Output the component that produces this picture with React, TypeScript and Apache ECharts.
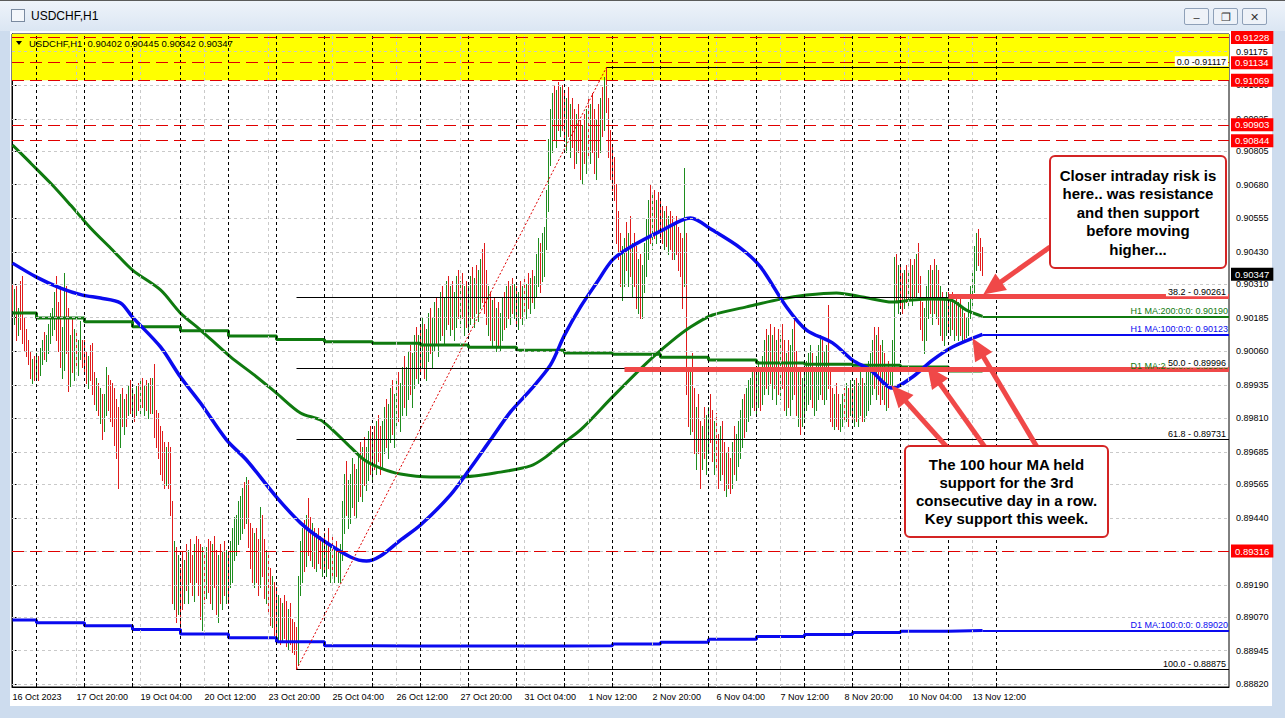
import React, { useEffect, useRef } from "react";
import * as echarts from "echarts";

const FONT = "'Liberation Sans', Arial, sans-serif";

// ---------- time axis ----------
const X_LABELS = ["16 Oct 2023", "17 Oct 20:00", "19 Oct 04:00", "20 Oct 12:00", "23 Oct 20:00", "25 Oct 04:00", "26 Oct 12:00", "27 Oct 20:00", "31 Oct 04:00", "1 Nov 12:00", "2 Nov 20:00", "6 Nov 04:00", "7 Nov 12:00", "8 Nov 20:00", "10 Nov 04:00", "13 Nov 12:00"];
const X_LABEL_EVERY = 32; // H1 bars between time labels
// first bar index of every trading day (16 Oct 12:00 is bar 0)
const DAY_START = [0, 12, 36, 60, 84, 108, 132, 156, 180, 204, 228, 252, 276, 300, 324, 348, 372, 396, 420, 444, 468];
const SEPARATORS = [12, 36, 60, 84, 108, 132, 156, 180, 204, 228, 252, 276, 300, 324, 348, 372, 396, 420, 444, 468, 492];
const X_MIN = -0.25;
const X_MAX = 608.25;

// ---------- price axis ----------
const Y_MIN = 0.8881;
const Y_MAX = 0.91241;
const Y_TICKS = [0.91175, 0.9105, 0.90925, 0.90805, 0.9068, 0.90555, 0.9043, 0.9031, 0.90185, 0.9006, 0.89935, 0.8981, 0.89685, 0.89565, 0.8944, 0.89315, 0.8919, 0.8907, 0.88945, 0.8882];

// ---------- H1 bars (pips, price x 10000), one row per trading day ----------
const HIGH_D = [
  [9031, 9029, 9030, 9022, 9032, 9034, 9018, 9014, 9010, 9006, 9003, 9004],
  [9005, 9004, 9007, 9010, 9013, 9012, 9016, 9020, 9022, 9028, 9034, 9024, 9030, 9015, 9035, 9030, 9022, 9012, 9018, 9014, 9013, 9010, 9017, 9010],
  [9010, 9006, 9004, 9008, 9009, 8998, 8996, 8994, 8992, 8990, 8990, 9000, 8997, 8995, 8994, 8992, 8988, 8985, 8990, 8992, 8988, 8990, 8993, 8995],
  [8992, 8990, 8993, 8994, 8995, 8996, 8993, 8995, 8994, 8996, 8996, 9001, 8984, 8983, 8978, 8976, 8972, 8970, 8972, 8970, 8950, 8935, 8933, 8930],
  [8925, 8931, 8928, 8934, 8932, 8936, 8930, 8934, 8937, 8936, 8934, 8933, 8930, 8933, 8936, 8935, 8934, 8937, 8932, 8930, 8934, 8931, 8935, 8932],
  [8930, 8935, 8940, 8944, 8945, 8950, 8952, 8955, 8957, 8959, 8958, 8942, 8940, 8938, 8940, 8936, 8948, 8945, 8936, 8932, 8930, 8925, 8922, 8920],
  [8918, 8915, 8914, 8912, 8915, 8913, 8910, 8912, 8906, 8905, 8903, 8922, 8935, 8940, 8943, 8945, 8951, 8944, 8942, 8940, 8938, 8940, 8937, 8935],
  [8938, 8935, 8940, 8934, 8937, 8932, 8935, 8931, 8934, 8950, 8960, 8965, 8958, 8960, 8966, 8964, 8962, 8968, 8972, 8970, 8974, 8970, 8976, 8978],
  [8975, 8978, 8980, 8982, 8978, 8980, 8985, 8988, 8986, 8992, 8995, 8990, 8996, 8998, 8994, 9000, 9004, 9000, 9006, 9008, 9005, 9012, 9015, 9012],
  [9015, 9018, 9016, 9014, 9020, 9022, 9018, 9024, 9026, 9022, 9028, 9030, 9026, 9032, 9034, 9030, 9032, 9028, 9034, 9036, 9032, 9035, 9030, 9032],
  [9030, 9034, 9037, 9033, 9038, 9036, 9040, 9044, 9046, 9036, 9030, 9028, 9025, 9026, 9022, 9024, 9020, 9026, 9028, 9030, 9032, 9030, 9033, 9031],
  [9030, 9028, 9032, 9030, 9034, 9031, 9035, 9033, 9036, 9034, 9042, 9048, 9046, 9050, 9052, 9066, 9085, 9096, 9102, 9105, 9103, 9106, 9104, 9105],
  [9102, 9100, 9104, 9098, 9100, 9096, 9094, 9098, 9092, 9090, 9094, 9096, 9100, 9098, 9102, 9096, 9092, 9098, 9100, 9104, 9108, 9111.7, 9100, 9088],
  [9082, 9078, 9068, 9058, 9050, 9045, 9048, 9054, 9050, 9056, 9046, 9050, 9045, 9040, 9042, 9038, 9046, 9055, 9062, 9068, 9064, 9066, 9062, 9065],
  [9062, 9060, 9058, 9060, 9056, 9058, 9056, 9054, 9056, 9052, 9050, 9048, 9074, 9050, 9000, 8998, 9005, 8992, 8985, 8990, 8980, 8978, 8985, 8982],
  [8985, 8990, 8984, 8980, 8983, 8975, 8978, 8980, 8972, 8968, 8970, 8966, 8972, 8978, 8975, 8980, 8984, 8988, 8990, 8992, 8995, 8996, 9000, 8998],
  [8998, 9002, 9000, 9004, 9010, 9014, 9012, 9016, 9012, 9015, 9010, 9014, 9012, 9016, 9010, 9005, 9010, 9008, 9014, 9018, 9006, 9000, 8998, 8996],
  [8998, 9002, 9005, 9008, 9005, 9000, 9004, 9008, 9012, 9010, 9006, 9008, 9023, 9000, 8992, 8990, 8994, 8990, 8986, 8990, 8992, 8994, 8992, 8995],
  [8992, 8995, 8996, 8994, 8998, 8996, 8994, 8998, 9002, 9005, 9010, 9015, 9012, 9015, 9008, 9010, 9005, 9000, 9002, 8998, 9010, 9041, 9042, 9038],
  [9038, 9035, 9036, 9038, 9036, 9040, 9038, 9040, 9042, 9046, 9034, 9024, 9022, 9030, 9036, 9038, 9036, 9040, 9038, 9036, 9030, 9028, 9026, 9028],
  [9028, 9026, 9028, 9025, 9026, 9024, 9026, 9022, 9020, 9018, 9024, 9030, 9035, 9045, 9050, 9051.5, 9048, 9044.5],
];
const LOW_D = [
  [9021, 9016, 9010, 9012, 9014, 9009, 9006, 9004, 9001, 8996, 8994, 8995],
  [8996, 8995, 8997, 9001, 9003, 9002, 9005, 9009, 9012, 9014, 9010, 9006, 9000, 8996, 8999, 9005, 8991, 8993, 8998, 8995, 9000, 8997, 9003, 9000],
  [8998, 8994, 8992, 8995, 8990, 8986, 8984, 8982, 8979, 8973, 8976, 8982, 8984, 8980, 8978, 8971, 8966, 8955, 8970, 8978, 8975, 8978, 8982, 8983],
  [8982, 8980, 8982, 8984, 8983, 8985, 8982, 8984, 8981, 8983, 8983, 8974, 8970, 8966, 8960, 8958, 8955, 8956, 8955, 8945, 8912, 8910, 8905, 8908],
  [8903, 8910, 8912, 8917, 8912, 8920, 8915, 8913, 8920, 8915, 8906, 8902, 8912, 8914, 8916, 8912, 8910, 8918, 8908, 8905, 8912, 8910, 8915, 8912],
  [8912, 8918, 8920, 8928, 8930, 8934, 8936, 8938, 8940, 8942, 8933, 8925, 8920, 8918, 8920, 8915, 8918, 8922, 8914, 8912, 8908, 8904, 8903, 8900],
  [8900, 8898, 8897, 8898, 8899, 8896, 8895, 8897, 8894, 8893, 8887.5, 8889, 8915, 8920, 8924, 8926, 8930, 8928, 8926, 8925, 8924, 8927, 8925, 8922],
  [8924, 8922, 8925, 8920, 8922, 8920, 8922, 8920, 8920, 8928, 8938, 8945, 8940, 8942, 8948, 8945, 8944, 8950, 8952, 8950, 8956, 8954, 8958, 8960],
  [8958, 8962, 8960, 8965, 8960, 8962, 8968, 8970, 8966, 8972, 8975, 8970, 8978, 8980, 8976, 8982, 8985, 8982, 8988, 8990, 8985, 8992, 8996, 8994],
  [8998, 9000, 8996, 8995, 9002, 9005, 9000, 9006, 9008, 9004, 9010, 9012, 9008, 9014, 9016, 9012, 9014, 9010, 9015, 9018, 9015, 9018, 9012, 9015],
  [9014, 9016, 9018, 9015, 9020, 9017, 9022, 9024, 9020, 9016, 9012, 9010, 9008, 9010, 9006, 9008, 9006, 9010, 9014, 9015, 9018, 9016, 9020, 9018],
  [9016, 9014, 9018, 9016, 9020, 9018, 9022, 9020, 9024, 9022, 9026, 9030, 9028, 9032, 9034, 9044, 9058, 9075, 9080, 9085, 9082, 9088, 9086, 9088],
  [9084, 9080, 9086, 9078, 9082, 9074, 9076, 9080, 9070, 9068, 9076, 9072, 9078, 9076, 9080, 9072, 9070, 9078, 9080, 9086, 9088, 9095, 9078, 9070],
  [9066, 9062, 9046, 9040, 9030, 9025, 9030, 9036, 9030, 9034, 9026, 9030, 9022, 9020, 9018, 9018, 9028, 9034, 9040, 9046, 9044, 9048, 9046, 9050],
  [9048, 9046, 9044, 9045, 9042, 9044, 9040, 9040, 9042, 9036, 9034, 9022, 9030, 8990, 8978, 8975, 8976, 8968, 8962, 8968, 8955, 8962, 8966, 8960],
  [8968, 8972, 8965, 8960, 8962, 8955, 8958, 8960, 8954, 8952, 8955, 8953, 8955, 8960, 8958, 8963, 8966, 8970, 8974, 8976, 8980, 8982, 8985, 8984],
  [8982, 8985, 8984, 8986, 8990, 8992, 8990, 8994, 8988, 8992, 8986, 8990, 8988, 8992, 8984, 8982, 8985, 8982, 8988, 8990, 8982, 8978, 8975, 8978],
  [8980, 8984, 8986, 8988, 8985, 8982, 8984, 8988, 8990, 8988, 8986, 8988, 8992, 8980, 8978, 8977, 8978, 8977, 8976, 8978, 8980, 8980, 8978, 8982],
  [8980, 8978, 8980, 8978, 8982, 8980, 8980, 8982, 8984, 8986, 8990, 8992, 8988, 8990, 8986, 8988, 8986, 8984, 8985, 8992, 8992, 9000, 9025, 9020],
  [9022, 9020, 9022, 9024, 9022, 9025, 9023, 9026, 9026, 9028, 9014, 9010, 9005, 9010, 9018, 9020, 9016, 9020, 9018, 9016, 9012, 9010, 9008, 9012],
  [9014, 9012, 9014, 9010, 9012, 9010, 9012, 9010, 9010, 9011, 9012, 9018, 9022, 9028, 9036, 9038, 9036, 9034.2],
];
const CLOSE_D = [
  [9024, 9027, 9013, 9018, 9016, 9012, 9010, 9008, 9003, 8999, 9000, 8998],
  [9001, 8998, 9005, 9008, 9006, 9010, 9014, 9017, 9019, 9025, 9015, 9012, 9004, 9008, 9020, 9010, 8995, 9005, 9003, 9010, 9004, 9007, 9009, 9006],
  [9001, 8998, 9000, 8997, 8994, 8990, 8993, 8986, 8988, 8978, 8987, 8995, 8988, 8985, 8982, 8975, 8972, 8965, 8986, 8983, 8984, 8982, 8990, 8987],
  [8987, 8984, 8990, 8986, 8992, 8989, 8990, 8987, 8991, 8986, 8992, 8978, 8975, 8970, 8964, 8962, 8960, 8966, 8958, 8950, 8920, 8930, 8912, 8925],
  [8920, 8914, 8925, 8921, 8929, 8926, 8918, 8930, 8927, 8919, 8915, 8925, 8922, 8928, 8920, 8917, 8929, 8924, 8914, 8922, 8918, 8926, 8922, 8928],
  [8926, 8932, 8938, 8940, 8942, 8947, 8949, 8953, 8950, 8956, 8936, 8930, 8925, 8934, 8924, 8920, 8940, 8926, 8918, 8925, 8912, 8910, 8915, 8906],
  [8904, 8910, 8902, 8908, 8903, 8900, 8906, 8899, 8897, 8895, 8890, 8918, 8930, 8934, 8928, 8940, 8937, 8933, 8938, 8930, 8934, 8932, 8929, 8930],
  [8928, 8932, 8927, 8930, 8925, 8929, 8926, 8928, 8932, 8946, 8955, 8950, 8952, 8956, 8960, 8950, 8958, 8963, 8958, 8966, 8962, 8967, 8970, 8965],
  [8970, 8966, 8975, 8970, 8965, 8976, 8980, 8975, 8982, 8986, 8980, 8985, 8990, 8984, 8988, 8995, 8990, 8996, 9000, 8995, 9002, 9008, 9004, 9010],
  [9008, 9012, 9004, 9010, 9015, 9010, 9014, 9020, 9015, 9018, 9024, 9018, 9022, 9026, 9020, 9025, 9018, 9022, 9028, 9024, 9027, 9022, 9025, 9020],
  [9024, 9028, 9022, 9030, 9026, 9032, 9035, 9030, 9026, 9020, 9024, 9016, 9020, 9014, 9018, 9012, 9016, 9022, 9020, 9026, 9024, 9027, 9025, 9028],
  [9022, 9025, 9020, 9027, 9024, 9028, 9026, 9030, 9028, 9032, 9038, 9040, 9034, 9046, 9048, 9062, 9080, 9090, 9096, 9090, 9098, 9092, 9100, 9094],
  [9090, 9095, 9088, 9092, 9084, 9080, 9090, 9085, 9078, 9085, 9080, 9090, 9084, 9092, 9086, 9078, 9088, 9085, 9096, 9092, 9102, 9098, 9082, 9075],
  [9070, 9066, 9050, 9045, 9034, 9038, 9044, 9040, 9046, 9038, 9042, 9034, 9028, 9036, 9024, 9032, 9040, 9050, 9058, 9052, 9060, 9054, 9058, 9056],
  [9055, 9050, 9054, 9048, 9052, 9050, 9046, 9050, 9046, 9042, 9038, 9030, 9040, 8995, 8985, 8990, 8982, 8975, 8980, 8972, 8960, 8972, 8970, 8975],
  [8980, 8976, 8970, 8975, 8966, 8962, 8970, 8965, 8958, 8962, 8960, 8958, 8968, 8965, 8972, 8976, 8980, 8984, 8982, 8988, 8990, 8994, 8995, 8992],
  [8994, 8996, 8990, 9000, 9005, 8998, 9006, 9002, 9008, 8996, 9004, 8998, 9006, 9000, 8992, 8998, 8990, 9002, 9008, 8996, 8988, 8992, 8984, 8990],
  [8992, 8995, 8998, 9000, 8990, 8994, 8998, 9002, 9006, 8996, 9000, 9004, 8996, 8985, 8982, 8986, 8982, 8980, 8984, 8986, 8984, 8990, 8986, 8990],
  [8986, 8990, 8984, 8988, 8992, 8986, 8990, 8994, 8996, 9000, 9004, 8998, 9006, 8998, 8994, 9002, 8992, 8995, 8990, 8995, 9006, 9036, 9030, 9034],
  [9030, 9028, 9032, 9030, 9034, 9032, 9035, 9033, 9036, 9030, 9018, 9014, 9016, 9026, 9030, 9024, 9030, 9026, 9032, 9022, 9026, 9018, 9020, 9024],
  [9020, 9022, 9018, 9020, 9016, 9020, 9015, 9016, 9012, 9014, 9022, 9028, 9032, 9042, 9048, 9044, 9040.2, 9034.7],
];
const FIRST_OPEN = 9028;
const HEADER_OHLC = [0.90402, 0.90445, 0.90342, 0.90347];

// ---------- moving averages ([bar index, pips]) ----------
const H1_MA200 = [[0, 9082.8], [9, 9076.1], [19, 9068.6], [29, 9060.4], [39, 9051.9], [50, 9043.7], [60, 9036.2], [74, 9028.8], [84, 9020.2], [94, 9013.9], [109, 9003.9], [121, 8997.1], [132, 8990.4], [144, 8983.0], [154, 8980.4], [160, 8976.7], [169, 8970.3], [176, 8965.5], [184, 8962.5], [194, 8960.3], [209, 8959.2], [224, 8959.2], [244, 8961.0], [259, 8963.3], [266, 8966.3], [274, 8971.1], [284, 8976.7], [300, 8989.0], [317, 9001.6], [329, 9009.4], [339, 9015.0], [350, 9019.5], [367, 9022.5], [384, 9025.4], [397, 9026.9], [412, 9027.7], [425, 9026.2], [440, 9024.3], [450, 9025.1], [460, 9025.4], [469, 9025.1], [477, 9021.3], [485, 9019.0]];
const H1_MA100 = [[0, 9038.8], [12, 9033.6], [24, 9029.5], [35, 9026.9], [44, 9025.8], [54, 9024.0], [60, 9018.7], [74, 9007.6], [84, 8996.4], [94, 8986.7], [107, 8973.0], [117, 8965.5], [132, 8951.7], [144, 8942.1], [155, 8935.7], [169, 8929.4], [177, 8927.9], [184, 8929.8], [194, 8935.7], [204, 8941.3], [219, 8952.5], [229, 8962.5], [239, 8973.0], [249, 8983.4], [259, 8991.6], [269, 9000.9], [276, 9012.0], [284, 9022.5], [292, 9031.4], [300, 9040.0], [309, 9044.8], [325, 9051.1], [339, 9055.6], [350, 9051.1], [364, 9044.4], [374, 9037.4], [387, 9022.5], [397, 9013.9], [410, 9009.1], [420, 9002.7], [429, 8999.0], [440, 8992.3], [450, 8996.4], [460, 9002.7], [470, 9007.6], [485, 9012.3]];
const D1_MA100 = [8905.9, 8904.9, 8903.8, 8902.4, 8900.7, 8899.3, 8897.8, 8896.4, 8896.3, 8896.3, 8896.3, 8896.3, 8896.4, 8897.0, 8897.7, 8898.8, 8899.8, 8900.5, 8901.3, 8901.8, 8902.0];
const D1_MA200 = [9020.2, 9018.4, 9017.0, 9015.1, 9013.6, 9011.7, 9010.4, 9009.5, 9009.0, 9008.3, 9007.5, 9006.4, 9005.3, 9004.9, 9003.8, 9002.7, 9001.6, 9001.2, 9000.8, 9000.1, 8998.6];

// ---------- drawn objects ----------
const RED_LEVELS = [0.91228, 0.91134, 0.91069, 0.90903, 0.90844, 0.89316];
const YELLOW_ZONE = [0.91069, Y_MAX];
const FIB_LOW = [142, 0.88875];
const FIB_HIGH = [297, 0.91117];
const FIB_LEVELS = [0, 38.2, 50, 61.8, 100];
const RISK_LINE = [468, 0.90264];
const SUPPORT_LINE = [306, 0.89993];
const ARROWS = [
  [[518.75, 0.90448], [489.85, 0.90295]],
  [[467.25, 0.89703], [443.1, 0.89903]],
  [[486.25, 0.89703], [460.65, 0.89971]],
  [[512.25, 0.89703], [482.8, 0.90073]],
];
const NOTE_1 = "Closer intraday risk is\nhere.. was resistance\nand then support\nbefore moving\nhigher...";
const NOTE_2 = "The 100 hour MA held\nsupport for the 3rd\nconsecutive day in a row.\nKey support this week.";

const P = (v: number) => v / 10000;

const UP = "#1e8c1e";
const DOWN = "#e01b1b";
const GREEN_MA = "#0f7a0f";
const BLUE_MA = "#0a0aef";
const SALMON = "#f04848";
const DASH_RED = "#e00000";

export default function App() {
  const ref = useRef<HTMLDivElement>(null);

  useEffect(() => {
    document.body.style.margin = "0";
    const chart = echarts.init(ref.current!, null, { renderer: "svg" });

    const HIGH = HIGH_D.flat();
    const LOW = LOW_D.flat();
    const CLOSE = CLOSE_D.flat();
    const bars = CLOSE.map((c, i) => [i, P(i === 0 ? FIRST_OPEN : CLOSE[i - 1]), P(HIGH[i]), P(LOW[i]), P(c)]);
    const lastIdx = CLOSE.length - 1;

    const labelIdx = X_LABELS.map((_, k) => k * X_LABEL_EVERY);
    const labelMap: Record<number, string> = {};
    labelIdx.forEach((v, k) => (labelMap[v] = X_LABELS[k]));

    const fibPrice = (lvl: number) => FIB_HIGH[1] - ((FIB_HIGH[1] - FIB_LOW[1]) * lvl) / 100;
    const d1Line = (vals: number[]) => [...DAY_START.map((d, k) => [d, P(vals[k])]), [lastIdx, P(vals[vals.length - 1])]];

    const helper = (z: number, extra: any) => ({ type: "line", data: [], z, silent: true, clip: false, animation: false, ...extra });
    const mlBase = { silent: true, symbol: ["none", "none"], precision: 5, animation: false };
    const smallLabel = { fontFamily: FONT, fontSize: 9 };

    const maExt = (val: number, color: string, text: string) => [
      { coord: [lastIdx, val], label: { show: true, position: "insideEndTop", distance: 1, formatter: text, color, ...smallLabel } },
      { coord: [X_MAX, val] },
    ];
    const lastOf = (arr: number[][]) => P(arr[arr.length - 1][1]);

    const option: any = {
      animation: false,
      backgroundColor: "transparent",
      grid: { left: 12, right: 56, top: 34, bottom: 31, show: true, borderColor: "#000", borderWidth: 1, backgroundColor: "transparent" },
      xAxis: {
        type: "value", min: X_MIN, max: X_MAX,
        axisLine: { show: true, lineStyle: { color: "#000", width: 1 } },
        axisTick: { show: true, inside: true, length: 4, customValues: [0, ...SEPARATORS], lineStyle: { color: "#000" } },
        axisLabel: { show: true, customValues: labelIdx, formatter: (v: number) => labelMap[v] ?? "", align: "left", margin: 5, color: "#000", ...smallLabel },
        splitLine: { show: false },
      },
      yAxis: {
        type: "value", position: "right", min: Y_MIN, max: Y_MAX, scale: true,
        axisLine: { show: true, lineStyle: { color: "#000", width: 1 } },
        axisTick: { show: true, length: 4, customValues: Y_TICKS, lineStyle: { color: "#000" } },
        axisLabel: { show: true, customValues: Y_TICKS, formatter: (v: number) => v.toFixed(5), margin: 7, color: "#000", ...smallLabel },
        splitLine: { show: false },
      },
      series: [
        helper(1, { markArea: { silent: true, itemStyle: { color: "#ffff00" }, data: [[{ yAxis: YELLOW_ZONE[0] }, { yAxis: YELLOW_ZONE[1] }]] } }),
        helper(2, {
          markLine: {
            ...mlBase, label: { show: false }, lineStyle: { color: "#c9c9c9", type: [3, 3], width: 1 },
            data: [...Y_TICKS.map((v) => ({ yAxis: v })), ...labelIdx.slice(1).map((v) => ({ xAxis: v }))],
          },
        }),
        helper(2, {
          markLine: { ...mlBase, label: { show: false }, lineStyle: { color: "#000", type: [3, 3], width: 1 }, data: SEPARATORS.map((v) => ({ xAxis: v })) },
        }),
        {
          type: "custom", z: 3, clip: true, animation: false, silent: true,
          data: bars,
          encode: { x: 0, y: [2, 3] },
          renderItem: (_p: any, api: any) => {
            const i = api.value(0), o = api.value(1), h = api.value(2), l = api.value(3), c = api.value(4);
            const top = api.coord([i, h]);
            const bot = api.coord([i, l]);
            const x = Math.floor(top[0]) + 0.5;
            const y1 = Math.floor(top[1]);
            const y2 = Math.max(Math.ceil(bot[1]), y1 + 1);
            return { type: "line", shape: { x1: x, y1, x2: x, y2 }, style: { stroke: c >= o ? UP : DOWN, lineWidth: 1 } };
          },
        },
        {
          type: "line", z: 4, silent: true, animation: false, symbol: "none", step: "end",
          data: d1Line(D1_MA100), lineStyle: { color: BLUE_MA, width: 3 },
          markLine: { ...mlBase, lineStyle: { color: BLUE_MA, width: 2, type: "solid" }, data: [maExt(P(D1_MA100[D1_MA100.length - 1]), BLUE_MA, "D1 MA:100:0:0: " + P(D1_MA100[D1_MA100.length - 1]).toFixed(5))] },
        },
        {
          type: "line", z: 4, silent: true, animation: false, symbol: "none", step: "end",
          data: d1Line(D1_MA200), lineStyle: { color: GREEN_MA, width: 3 },
          markLine: { ...mlBase, lineStyle: { color: GREEN_MA, width: 2, type: "solid" }, data: [maExt(P(D1_MA200[D1_MA200.length - 1]), GREEN_MA, "D1 MA:200:0:0: " + P(D1_MA200[D1_MA200.length - 1]).toFixed(5))] },
        },
        {
          type: "line", z: 4, silent: true, animation: false, symbol: "none", smooth: 0.3,
          data: H1_MA200.map(([x, y]) => [x, P(y)]), lineStyle: { color: GREEN_MA, width: 3 },
          markLine: { ...mlBase, lineStyle: { color: GREEN_MA, width: 2, type: "solid" }, data: [maExt(lastOf(H1_MA200), GREEN_MA, "H1 MA:200:0:0: " + lastOf(H1_MA200).toFixed(5))] },
        },
        {
          type: "line", z: 4, silent: true, animation: false, symbol: "none", smooth: 0.3,
          data: H1_MA100.map(([x, y]) => [x, P(y)]), lineStyle: { color: BLUE_MA, width: 3.5 },
          markLine: { ...mlBase, lineStyle: { color: BLUE_MA, width: 2, type: "solid" }, data: [maExt(lastOf(H1_MA100), BLUE_MA, "H1 MA:100:0:0: " + lastOf(H1_MA100).toFixed(5))] },
        },
        // fibonacci retracement
        helper(5, {
          markLine: {
            ...mlBase, lineStyle: { color: "#000", width: 1, type: "solid" },
            data: [
              ...FIB_LEVELS.map((lvl) => {
                const p = fibPrice(lvl);
                const txt = lvl === 0 ? "0.0 -" + p.toFixed(5) : lvl.toFixed(1) + " - " + p.toFixed(5);
                return [
                  { coord: [lvl === 0 ? FIB_HIGH[0] : FIB_LOW[0], p], label: { show: true, position: "insideEndTop", distance: 1, formatter: txt, color: "#000", backgroundColor: "#fff", padding: [1, 2, 0, 2], ...smallLabel } },
                  { coord: [X_MAX, p] },
                ];
              }),
              [{ coord: FIB_LOW, lineStyle: { color: "#e00000", type: [2, 2] }, label: { show: false } }, { coord: FIB_HIGH }],
            ],
          },
        }),
        // horizontal levels with price tags
        helper(6, {
          markLine: {
            ...mlBase, lineStyle: { color: DASH_RED, width: 1, type: [12, 6] },
            label: { show: true, position: "end", distance: 2, formatter: (p: any) => Number(p.value).toFixed(5), color: "#fff", backgroundColor: "#ff0000", padding: [2, 4, 1, 4], ...smallLabel, fontSize: 9.5 },
            data: RED_LEVELS.map((v) => ({ yAxis: v })),
          },
        }),
        helper(6, {
          markLine: {
            ...mlBase, lineStyle: { color: "transparent", width: 0 },
            label: { show: true, position: "end", distance: 2, formatter: (p: any) => Number(p.value).toFixed(5), color: "#fff", backgroundColor: "#000", padding: [2, 4, 1, 4], ...smallLabel, fontSize: 9.5 },
            data: [{ yAxis: HEADER_OHLC[3] }],
          },
        }),
        // thick annotation lines & arrows
        helper(7, {
          markLine: {
            ...mlBase, label: { show: false }, lineStyle: { color: SALMON, width: 5, type: "solid", cap: "butt" },
            data: [
              [{ coord: RISK_LINE }, { coord: [X_MAX, RISK_LINE[1]] }],
              [{ coord: SUPPORT_LINE }, { coord: [X_MAX, SUPPORT_LINE[1]] }],
            ],
          },
        }),
        helper(8, {
          markLine: {
            ...mlBase, symbol: ["none", "triangle"], symbolSize: [20, 22], label: { show: false },
            lineStyle: { color: SALMON, width: 5, type: "solid", cap: "butt" },
            itemStyle: { color: SALMON },
            data: ARROWS.map(([a, b]) => [{ coord: a }, { coord: b }]),
          },
        }),
      ],
      graphic: {
        elements: [
          { type: "polygon", z: 100, silent: true, shape: { points: [[16, 41], [22, 41], [19, 45]] }, style: { fill: "#000" } },
          {
            type: "text", z: 100, silent: true, x: 29, y: 43,
            style: { text: "USDCHF,H1  " + HEADER_OHLC.map((v) => v.toFixed(5)).join(" "), fill: "#000", font: `9.5px ${FONT}`, verticalAlign: "middle" },
          },
          { type: "rect", z: 100, silent: true, shape: { x: 1050, y: 156, width: 176, height: 112, r: 5 }, style: { fill: "#fff", stroke: "#d42424", lineWidth: 2 } },
          { type: "text", z: 101, silent: true, x: 1138, y: 212, style: { text: NOTE_1, fill: "#000", font: `bold 15px ${FONT}`, align: "center", verticalAlign: "middle", lineHeight: 18.5 } },
          { type: "rect", z: 100, silent: true, shape: { x: 905, y: 446, width: 203, height: 91, r: 5 }, style: { fill: "#fff", stroke: "#d42424", lineWidth: 2 } },
          { type: "text", z: 101, silent: true, x: 1006.5, y: 491.5, style: { text: NOTE_2, fill: "#000", font: `bold 15px ${FONT}`, align: "center", verticalAlign: "middle", lineHeight: 17.8 } },
        ],
      },
    };

    chart.setOption(option);
    return () => chart.dispose();
  }, []);

  return (
    <div style={{ position: "fixed", left: 0, top: 0, width: 1285, height: 718, overflow: "hidden", background: "#cddcee", fontFamily: FONT }}>
      <div style={{ position: "absolute", left: 0, top: 0, width: 1285, height: 31, background: "linear-gradient(#eef3fa, #dbe6f3)", borderTop: "1px solid #5a5a5a", boxSizing: "border-box" }}>
        <div style={{ position: "absolute", left: 11, top: 8, width: 14, height: 13, border: "1px solid #7a8aa0", background: "#f4f7fb", boxSizing: "border-box" }} />
        <div style={{ position: "absolute", left: 31, top: 8, fontSize: 12, color: "#000" }}>USDCHF,H1</div>
        {["–", "❐", "✕"].map((g, k) => (
          <div key={k} style={{ position: "absolute", left: 1184 + k * 29, top: 7, width: 25, height: 17, border: "1px solid #8ea0b8", borderRadius: 2, background: "#eef2f8", fontSize: 11, lineHeight: "16px", textAlign: "center", color: "#333", boxSizing: "border-box" }}>{g}</div>
        ))}
      </div>
      <div style={{ position: "absolute", left: 10, top: 31, width: 1262, height: 675, background: "#fff" }} />
      <div ref={ref} style={{ position: "absolute", left: 0, top: 0, width: 1285, height: 718 }} />
    </div>
  );
}
